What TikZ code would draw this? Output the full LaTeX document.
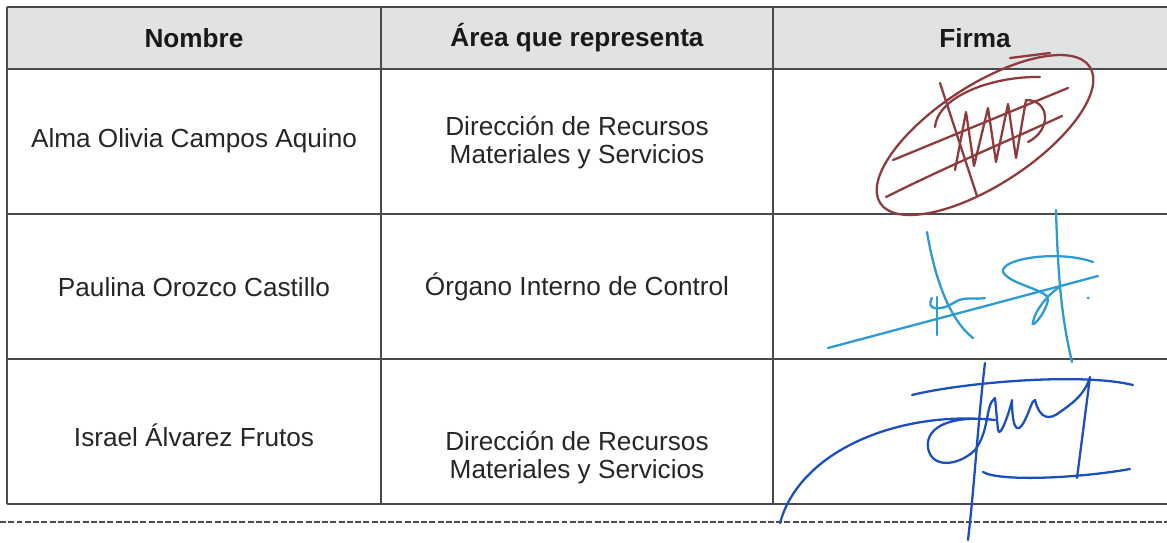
\documentclass[tikz,border=0pt]{standalone}
\usepackage{fontspec}
\setmainfont{Liberation Sans}
\usepackage{xcolor}
\usetikzlibrary{positioning}
\definecolor{headgray}{HTML}{E1E2E4}
\definecolor{rulegray}{HTML}{4A4A4A}
\definecolor{inkred}{HTML}{8F3A3C}
\definecolor{inkcyan}{HTML}{2C9AD5}
\definecolor{inkblue}{HTML}{1B4FBE}
\tikzset{
    cell_text/.style = {align=center, inner sep=0pt, text centered, text=black!85, font=\fontsize{14.9}{16}\selectfont},
    head_text/.style = {cell_text, text=black!90, font=\fontsize{14.9}{16}\selectfont\bfseries},
    grid_line/.style = {draw=rulegray, line width=0.8pt},
    ink/.style = {line width=1.3pt, line cap=round, line join=round}
}

\begin{document}
\begin{tikzpicture}[x=0.02cm, y=-0.02cm]
    \useasboundingbox (0,0) rectangle (1167,542);

    % table frame
    \fill[headgray] (7,7) rectangle (1167,69);
    \draw[grid_line] (7,7) -- (1167,7);
    \foreach \y in {69,214,359,504}
        \draw[grid_line] (7,\y) -- (1167,\y);
    \foreach \x in {7,381,773}
        \draw[grid_line] (\x,7) -- (\x,504);
    \draw[rulegray, line width=0.9pt, dash pattern=on 3.4pt off 1.3pt] (0,522) -- (1167,522);

    % headers
    \node[head_text] (h_name) at (194,38) {Nombre};
    \node[head_text] (h_area) at (577,38) {Área que representa};
    \node[head_text] (h_sign) at (975,38) {Firma};

    % rows
    \node[cell_text] (name_1) at (194,141) {Alma Olivia Campos Aquino};
    \node[cell_text] (area_1) at (577,143) {Dirección de Recursos\\Materiales y Servicios};
    \node[cell_text] (name_2) at (194,287) {Paulina Orozco Castillo};
    \node[cell_text] (area_2) at (577,287) {Órgano Interno de Control};
    \node[cell_text] (name_3) at (194,435) {Israel Álvarez Frutos};
    \node[cell_text] (area_3) at (577,458) {Dirección de Recursos\\Materiales y Servicios};

    % signature 1
    \draw[ink, inkred, rotate around={33:(985,135)}] (985,135) ellipse [x radius=125, y radius=50];
    \draw[ink, inkred] (1010,58) -- (1050,53);
    \draw[ink, inkred] (893,160) -- (1068,88);
    \draw[ink, inkred] (886,197) .. controls (950,165) and (1010,140) .. (1062,116);
    \draw[ink, inkred] (940,83) -- (977,196);
    \draw[ink, inkred] (935,127) .. controls (938,95) and (995,76) .. (1040,77);
    \draw[ink, inkred] (955,170) -- (966,112) -- (974,166) -- (988,108) -- (996,162) -- (1008,104)
        -- (1016,158) -- (1026,100) .. controls (1050,100) and (1052,130) .. (1028,142);

    % signature 2
    \draw[ink, inkcyan] (828,348) -- (1098,276);
    \draw[ink, inkcyan] (927,232) .. controls (935,280) and (950,320) .. (973,338);
    \draw[ink, inkcyan] (937,297) -- (937,335);
    \draw[ink, inkcyan] (932,298) .. controls (925,310) and (940,312) .. (955,302)
        .. controls (965,296) and (975,300) .. (985,298);
    \draw[ink, inkcyan] (1056,210) .. controls (1058,280) and (1062,320) .. (1072,362);
    \draw[ink, inkcyan] (1093,262) .. controls (1060,250) and (1000,258) .. (1003,272)
        .. controls (1010,285) and (1050,290) .. (1048,300)
        .. controls (1045,315) and (1030,330) .. (1033,322)
        .. controls (1035,310) and (1048,295) .. (1058,288);
    \fill[inkcyan] (1088,298) circle (1.5);

    % signature 3
    \draw[ink, inkblue] (912,395) .. controls (960,383) and (1080,372) .. (1133,385);
    \draw[ink, inkblue] (780,523) .. controls (800,450) and (900,410) .. (995,420)
        .. controls (955,415) and (925,425) .. (928,448)
        .. controls (932,470) and (960,465) .. (975,450)
        .. controls (990,430) and (985,405) .. (995,398) -- (998,430)
        .. controls (1000,440) and (1010,410) .. (1012,400)
        .. controls (1012,420) and (1015,440) .. (1025,420)
        .. controls (1030,410) and (1032,400) .. (1035,400)
        .. controls (1040,420) and (1050,420) .. (1060,412)
        .. controls (1070,405) and (1085,395) .. (1090,377) -- (1077,478);
    \draw[ink, inkblue] (983,472) .. controls (1000,482) and (1080,478) .. (1130,469);
    \draw[ink, inkblue] (985,363) .. controls (978,420) and (975,480) .. (968,540);
\end{tikzpicture}
\end{document}
